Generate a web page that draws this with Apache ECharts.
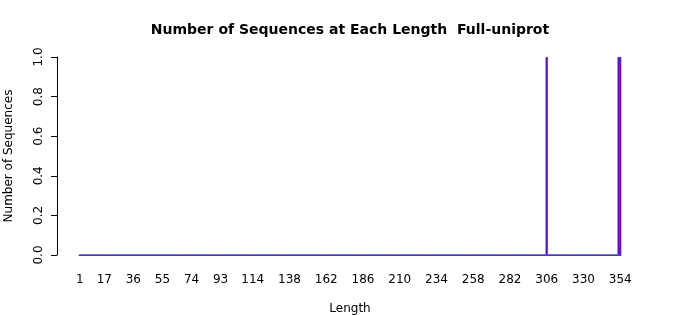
<!DOCTYPE html>
<html><head><meta charset="utf-8">
<script src="https://cdn.jsdelivr.net/npm/echarts@6/dist/echarts.min.js"></script>
<style>html,body{margin:0;padding:0;background:#fff}#c{width:700px;height:315px}</style>
</head><body><div id="c"></div>
<script>
// Lengths 1..354 (categories), counts
var lengths = [];
for (var i = 1; i <= 354; i++) lengths.push(i);
var nonZeroLengths = [306, 353, 354];
var nonZeroCounts = [1, 1, 1];
var counts = lengths.map(function (L) {
  var k = nonZeroLengths.indexOf(L);
  return k >= 0 ? nonZeroCounts[k] : 0;
});
var xTickLabels = [1, 17, 36, 55, 74, 93, 114, 138, 162, 186, 210, 234, 258, 282, 306, 330, 354];
var yTicks = [0, 0.2, 0.4, 0.6, 0.8, 1.0];

var chart = echarts.init(document.getElementById('c'), null, {renderer: 'canvas'});
var font = 'DejaVu Sans';
chart.setOption({
  animation: false,
  title: {
    text: 'Number of Sequences at Each Length  Full-uniprot',
    left: 'center', top: 18,
    textStyle: {fontFamily: font, fontWeight: 'bold', fontSize: 14, color: '#000'}
  },
  grid: {left: 79, right: 79, top: 57, bottom: 60, containLabel: false, outerBoundsMode: 'none'},
  xAxis: {
    type: 'category',
    data: lengths.map(String),
    boundaryGap: true,
    name: 'Length', nameLocation: 'middle', nameGap: 48,
    nameTextStyle: {fontFamily: font, fontSize: 12, color: '#000'},
    axisLine: {show: true, lineStyle: {color: '#3b3be0', width: 1}},
    axisTick: {show: false},
    axisLabel: {
      fontFamily: font, fontSize: 12, color: '#000', margin: 19,
      interval: function (idx, val) { return xTickLabels.indexOf(+val) >= 0; }
    },
    splitLine: {show: false}
  },
  yAxis: {
    type: 'value', min: 0, max: 1, interval: 0.2, offset: 22,
    name: 'Number of Sequences', nameLocation: 'middle', nameGap: 42,
    nameTextStyle: {fontFamily: font, fontSize: 12, color: '#000'},
    axisLine: {show: true, lineStyle: {color: '#000'}},
    axisTick: {show: true, length: 6, lineStyle: {color: '#000'}},
    axisLabel: {
      fontFamily: font, fontSize: 12, color: '#000', rotate: 90, margin: 12,
      formatter: function (v) { return v.toFixed(1); }
    },
    splitLine: {show: false}
  },
  series: [{
    type: 'bar',
    data: counts,
    barWidth: 2.4,
    barGap: '0%',
    itemStyle: {color: '#6e00a8', borderColor: '#4636e0', borderWidth: 0.7}
  }]
});
</script></body></html>
